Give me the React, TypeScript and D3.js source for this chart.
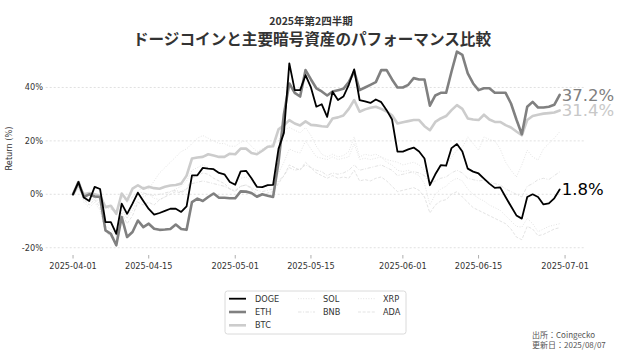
import React from 'react';
import * as d3 from 'd3';

// daily closes, return vs 2025-04-01 (%)
const dates = d3.utcDay.range(new Date(Date.UTC(2025, 3, 1)), new Date(Date.UTC(2025, 6, 1)));

const doge = [
  0, 4.6, -1.2, -2.5, 2.8, 2.0, -10.4, -10.4, -14.8, -3.5,
  -7.3, -3.5, 0.6, -2.5, -5.5, -7.6, -7.0, -6.2, -5.4, -5.4,
  -6.6, -4.5, 7.1, 7.1, 9.9, 9.6, 9.4, 8.0, 7.5, 4.6,
  3.6, 8.6, 8.8, 6.0, 2.8, 2.7, 3.4, 3.5, 17, 23,
  49, 39, 39, 44.6, 40, 32.8, 33.7, 29, 38.4, 35.3,
  36.6, 41, 46.8, 35.3, 34.8, 34.2, 35.5, 34.5, 31.5, 28,
  16, 16, 16.8, 17.5, 16, 13.4, 3.4, 7.5, 10.9, 10.7,
  17.3, 18.8, 16, 9.6, 8.5, 7.8, 5.9, 4, 2.4, 2.6,
  -1, -4.5, -7.9, -9.1, -1, 0, -1, -3.8, -3.4, -1.5,
  1.8,
];
const eth = [
  0, 4.6, -1, 0, -0.8, -1, -13.5, -14.8, -19.1, -8.5,
  -16, -14.1, -9.8, -12.3, -11, -12.9, -13.3, -13.2, -13, -11.3,
  -13, -13.3, -2.9, -1.6, -2.5, -1, 0.3, -1.3, -1.3, -1.5,
  -1.5, 1.1, 1, 0.5, -0.9, 0, -0.5, -1, 12, 30,
  41.5, 38, 36.6, 46.5, 43, 39.7, 38.5, 37, 38.5, 39,
  39.5, 42, 46, 39, 40, 41, 42, 46.5, 46.5, 43,
  40, 40, 41, 43.5, 43, 43, 33.2, 37, 38, 38,
  46, 53.4, 52.2, 45.3, 41.5, 39, 39.7, 39.7, 38, 38,
  38, 34, 28, 22.5, 32.8, 34.6, 32.5, 32.5, 32.8, 33.5,
  37.2,
];
const btc = [
  0, 3.5, 0, 0.5, 0, -0.5, -4.8, -4.3, -7.3, 0.3,
  -2.3, 2.1, 3.4, 2.1, 2.8, 2.3, 2.1, 2.8, 3.3, 3.5,
  4, 7, 13.4, 13.8, 14, 15, 14.5, 14, 14, 15.2,
  15, 17.1, 17.1, 15.5, 15, 16.3, 17.8, 18, 24.3, 25.8,
  27.8, 26.5, 25.8, 27.3, 26, 25.8, 25.5, 25.3, 28.4, 28.8,
  29.5, 32, 35.3, 30.9, 31.8, 32.4, 32.8, 32, 31, 29.6,
  26.5, 27, 27.4, 27.8, 27.8, 25.5, 24, 27.1, 28.4, 29.3,
  31.5, 33.4, 32, 28.4, 28, 27.8, 29.8, 28, 27.1, 27.1,
  25.9, 25, 23.5, 22.1, 27.8, 29.3, 29.8, 30.2, 30.4, 30.6,
  31.4,
];
const sol = [
  0, 3, -2, -3, -1, -4, -12, -13, -16, -6,
  -9, -4, 1, 3, 2, 5, 8, 10, 12, 14,
  16, 17, 19, 21, 22, 21, 20, 19, 19, 18,
  18, 19.5, 20, 18, 16, 17, 18, 19, 20, 24,
  25, 24, 23, 25, 22, 18, 15, 14, 15, 14,
  14.5, 16, 21.5, 14, 15, 14.5, 15, 14, 13, 12.5,
  12, 11, 11.5, 12, 11, 9, 4, 8, 10, 11,
  14, 16.5, 17.5, 21.5, 19, 16.5, 21.5, 20.5, 20, 17,
  12, 9, 6.5, 11, 16.5, 14, 12.8, 17, 19, 21,
  23.4,
];
const bnb = [
  0, 2, -1, -1.5, 0, -1, -5, -5.5, -7, -1,
  -3, -1, 1, 0.5, 0, -0.5, 0, 0.5, 1, 1.5,
  1, 2, 4, 4.5, 5, 4.5, 4, 3.5, 3, 2,
  1.5, 3, 3.5, 2.5, 1.5, 1, 1.5, 2, 5, 7,
  10, 9, 9.5, 11, 10, 9, 8.5, 7, 8, 7.5,
  8, 9, 11, 9, 9.5, 10, 10.5, 11, 10, 9,
  7, 7.5, 8, 8.5, 8, 7, 4, 5, 6, 6.5,
  8, 9, 8, 6, 5.5, 5, 5.3, 4.5, 4, 3.5,
  2, 1, 0, -1, 3, 4, 5.5, 6, 5.5, 7,
  8.4,
];
const xrp = [
  0, 3, -3, -5, -3, -6, -14, -15, -17, -4,
  -9, -6, -2, -1, 0, -1.5, -2, -1, 1, 2,
  3, 5, 9, 10, 11, 10, 9, 8, 7, 5,
  4, 6, 6.5, 5, 3, 2.5, 3, 4, 8, 12,
  17, 16, 15.5, 20, 17, 14, 13.5, 13, 14, 13,
  13.5, 14, 19, 13, 13.5, 13, 13.5, 14, 12, 11,
  9, 8.5, 9, 8, 7, 4, -4, 0, 2, 3,
  5, 6, 5, 2, 0, -1.5, -2.5, -4, -5, -6,
  -8, -10, -12, -12.3, -9, -11, -14, -13, -12, -11.5,
  -11,
];
const ada = [
  0, 3.5, -2, -4, -2, -5, -14, -16, -18, -7,
  -11, -8, -3, -4, -3, -4, -2, -1, 0, 1,
  0.5, 2, 6, 7, 8, 7.5, 6, 5, 4, 2,
  1, 3, 3.5, 2, 0, -0.5, 0.5, 1, 4, 7,
  11, 10, 9, 12, 10, 8, 7, 6, 7, 6,
  6.5, 6, 9, 5, 5.5, 5, 6, 6.5, 5, 3,
  1, 1.5, 2, 2.5, 1.5, -1, -7, -4, -2.5, -2,
  0, 1, -1, -3, -5, -6, -7, -8, -9, -10,
  -11, -13, -16, -17, -12, -13, -15.5, -15, -14, -13,
  -12.5,
];

const yTicks = [-20, 0, 20, 40];
const xTicks = ['2025-04-01', '2025-04-15', '2025-05-01', '2025-05-15', '2025-06-01', '2025-06-15', '2025-07-01'];

const series = [
  { name: 'SOL', values: sol, color: '#dcdcdc', width: 0.8, dash: '1,1.6' },
  { name: 'BNB', values: bnb, color: '#dcdcdc', width: 0.8, dash: '3.5,1.5,1,1.5' },
  { name: 'XRP', values: xrp, color: '#dcdcdc', width: 0.8, dash: '1,1.6' },
  { name: 'ADA', values: ada, color: '#dcdcdc', width: 0.8, dash: '3,1.6' },
  { name: 'BTC', values: btc, color: '#cccccc', width: 2.6, dash: null },
  { name: 'ETH', values: eth, color: '#808080', width: 2.6, dash: null },
  { name: 'DOGE', values: doge, color: '#000000', width: 1.8, dash: null },
];
// legend: 3 columns filled top-down (3, 2, 2)
const legendOrder = ['DOGE', 'ETH', 'BTC', 'SOL', 'BNB', 'XRP', 'ADA'];
const legendCol = [0, 0, 0, 1, 1, 2, 2];
const legendRow = [0, 1, 2, 0, 1, 0, 1];
const labelled = ['DOGE', 'ETH', 'BTC'];

const W = 624;
const H = 351;
const plot = { left: 48.7, right: 584, top: 42, bottom: 255 };
const tickFont = '"DejaVu Sans", sans-serif';
const cjkFont = '"Noto Sans CJK JP", "DejaVu Sans", sans-serif';

export default function App() {
  const t0 = dates[0].getTime();
  const t1 = dates[dates.length - 1].getTime();
  const padT = (t1 - t0) * 0.05;
  const x = d3.scaleUtc()
    .domain([new Date(t0 - padT), new Date(t1 + padT)])
    .range([plot.left, plot.right]);

  const all = series.flatMap(s => s.values);
  const [lo, hi] = d3.extent(all) as [number, number];
  const padV = (hi - lo) * 0.05;
  const y = d3.scaleLinear().domain([lo - padV, hi + padV]).range([plot.bottom, plot.top]);

  const line = d3.line<number>()
    .x((_, i) => x(dates[i]))
    .y(d => y(d));

  const byName = Object.fromEntries(series.map(s => [s.name, s]));

  return (
    <svg width={W} height={H} style={{ position: 'absolute', left: 0, top: 0, background: '#fff' }}>
      <text x={311} y={24.5} textAnchor="middle" fontFamily={cjkFont} fontWeight="bold" fontSize={10.5} fill="#333">
        2025年第2四半期
      </text>
      <text x={312} y={45} textAnchor="middle" fontFamily={cjkFont} fontWeight="bold" fontSize={15.6} fill="#333">
        ドージコインと主要暗号資産のパフォーマンス比較
      </text>

      {yTicks.map(t => (
        <g key={t}>
          <line x1={plot.left - 3} x2={plot.right} y1={y(t)} y2={y(t)}
            stroke="#d8d8d8" strokeWidth={0.8} strokeDasharray="2,2" />
          <text x={43} y={y(t)} dy="0.35em" textAnchor="end" fontFamily={tickFont} fontSize={8.2} fill="#333">
            {`${t}%`}
          </text>
        </g>
      ))}

      {xTicks.map(t => {
        const px = x(new Date(t + 'T00:00:00Z'));
        return (
          <g key={t}>
            <line x1={px} x2={px} y1={plot.bottom} y2={plot.bottom + 3.5} stroke="#999" strokeWidth={0.8} />
            <text x={px} y={269} textAnchor="middle" fontFamily={tickFont} fontSize={8.2} fill="#333">{t}</text>
          </g>
        );
      })}

      <text transform={`translate(12,${(plot.top + plot.bottom) / 2}) rotate(-90)`} textAnchor="middle"
        fontFamily={tickFont} fontSize={8.2} fill="#333">Return (%)</text>

      {series.map(s => (
        <path key={s.name} d={line(s.values) || ''} fill="none" stroke={s.color} strokeWidth={s.width}
          strokeDasharray={s.dash || undefined} strokeLinejoin="round" strokeLinecap={s.dash ? 'butt' : 'round'} />
      ))}

      {labelled.map(n => {
        const s = byName[n];
        const last = s.values[s.values.length - 1];
        return (
          <text key={n} x={x(dates[dates.length - 1]) + 2} y={y(last)} dy="0.35em"
            fontFamily={tickFont} fontSize={16.5} fill={n === 'BTC' ? '#c8c8c8' : s.color}>
            {`${last.toFixed(1)}%`}
          </text>
        );
      })}

      <rect x={225} y={291} width={181} height={43} rx={2.5} fill="#fff" stroke="#d0d0d0" strokeWidth={0.8} />
      {legendOrder.map((n, i) => {
        const s = byName[n];
        const col = legendCol[i];
        const row = legendRow[i];
        const lx = [229, 298, 358][col];
        const tx = [255, 323, 383][col];
        const ly = 298.7 + row * 13.3;
        return (
          <g key={n}>
            <line x1={lx} x2={lx + 17} y1={ly} y2={ly} stroke={s.color} strokeWidth={s.width}
              strokeDasharray={s.dash || undefined} />
            <text x={tx} y={ly} dy="0.35em" fontFamily={tickFont} fontSize={8.2} fill="#333">{n}</text>
          </g>
        );
      })}

      <text x={532} y={338} fontFamily={cjkFont} fontSize={8} fill="#555">出所：Coingecko</text>
      <text x={532} y={348} fontFamily={cjkFont} fontSize={8} fill="#555">更新日：2025/08/07</text>
    </svg>
  );
}
